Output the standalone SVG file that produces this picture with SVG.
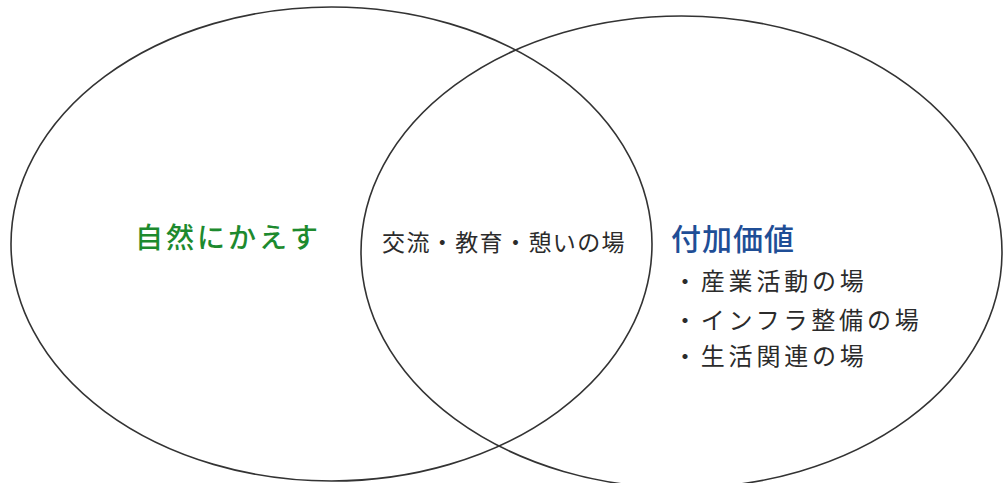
<svg xmlns="http://www.w3.org/2000/svg" width="1004" height="483" viewBox="0 0 1004 483">
<style>
.ring{fill:none;stroke:#333;stroke-width:1.6}
.t{font-family:"Noto Sans CJK JP","Noto Sans CJK SC",sans-serif;fill:#2b2b2b}
.g{fill:#1d8a2e;font-size:28px;letter-spacing:3px;font-weight:500}
.b{fill:#1f4e96;font-size:30px;letter-spacing:1px;font-weight:500}
.m{font-size:23px;letter-spacing:1.4px}
.l{font-size:24px;letter-spacing:3.8px}
</style>
<rect width="1004" height="483" fill="#fff"/>
<g id="left-circle">
<ellipse class="ring" cx="331.5" cy="244" rx="320.5" ry="237"/>
<text class="t g" x="135" y="248">自然にかえす</text>
</g>
<g id="right-circle">
<ellipse class="ring" cx="681.5" cy="252" rx="320.5" ry="236"/>
<text class="t b" x="671" y="250">付加価値</text>
<text class="t l" x="673" y="290">・産業活動の場</text>
<text class="t l" x="673" y="329">・インフラ整備の場</text>
<text class="t l" x="673" y="365">・生活関連の場</text>
</g>
<g id="overlap">
<text class="t m" x="382" y="251">交流・教育・憩いの場</text>
</g>
</svg>
